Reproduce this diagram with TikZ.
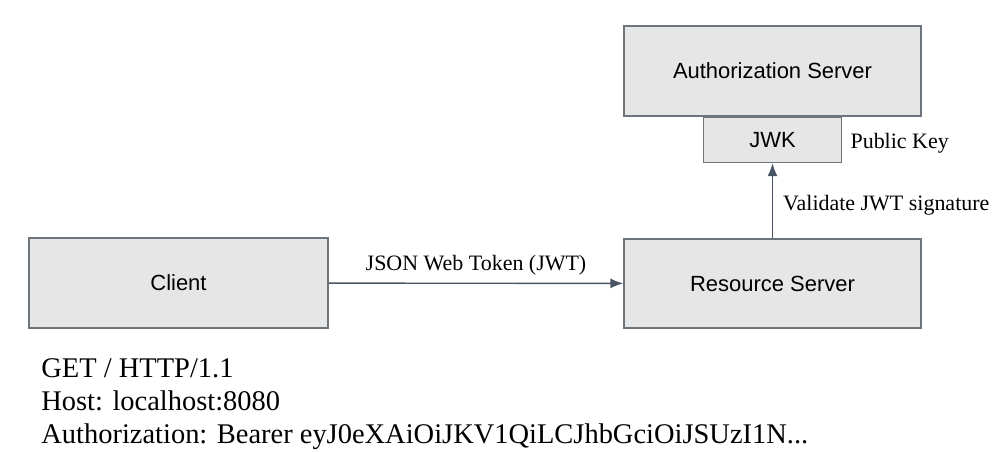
\documentclass[tikz,border=0pt]{standalone}
\usepackage{fontspec}
\setmainfont{Liberation Serif}
\setsansfont{Liberation Sans}
\usetikzlibrary{positioning, arrows.meta}

\definecolor{boxfill}{RGB}{230,230,230}
\definecolor{boxline}{RGB}{110,116,124}
\definecolor{arrowline}{RGB}{72,84,100}

\tikzset{
  server/.style={draw=boxline, fill=boxfill, line width=0.8pt,
    font=\sffamily\fontsize{12.5}{15}\selectfont, inner sep=0pt},
  flow/.style={draw=arrowline, line width=0.8pt, -{Latex[length=2.6mm,width=2mm]}},
  note/.style={font=\fontsize{12.5}{15}\selectfont, inner sep=0pt}
}

\begin{document}
\begin{tikzpicture}

% Fix the page size
\useasboundingbox (0,0) rectangle (20,-9.02);

% Define box sizes
\def\bw{5.94}
\def\bh{1.8}

% Authorization server with its key box underneath
\node[server, minimum width=\bw cm, minimum height=\bh cm] (auth) at (15.45,-1.42) {Authorization Server};
\node[server, minimum width=2.76cm, minimum height=0.9cm, below=0pt of auth] (jwk) {JWK};

% Client and resource server
\node[server, minimum width=5.98cm, minimum height=\bh cm] (client) at (3.57,-5.66) {Client};
\node[server, minimum width=\bw cm, minimum height=1.78cm] (resource) at (15.45,-5.67) {Resource Server};

% Token goes from client to resource server
\draw[flow] (client) -- node[note, above=0.14cm] (token) {JSON Web Token (JWT)} (resource);

% Resource server checks the signature with the key
\draw[flow] (resource) -- node[note, right=0.2cm, yshift=-0.1cm] (validate) {Validate JWT signature} (jwk);

% Label the key
\node[note, right=0.16cm of jwk, yshift=-0.06cm] (pubkey) {Public Key};

% HTTP request below the client
\node[anchor=north west, align=left, inner sep=0pt,
  font=\fontsize{16.2}{18.9}\selectfont] (request) at (0.82,-7.16)
  {GET / HTTP/1.1\\
   Host: localhost:8080\\
   Authorization: Bearer eyJ0eXAiOiJKV1QiLCJhbGciOiJSUzI1N...};

\end{tikzpicture}
\end{document}
